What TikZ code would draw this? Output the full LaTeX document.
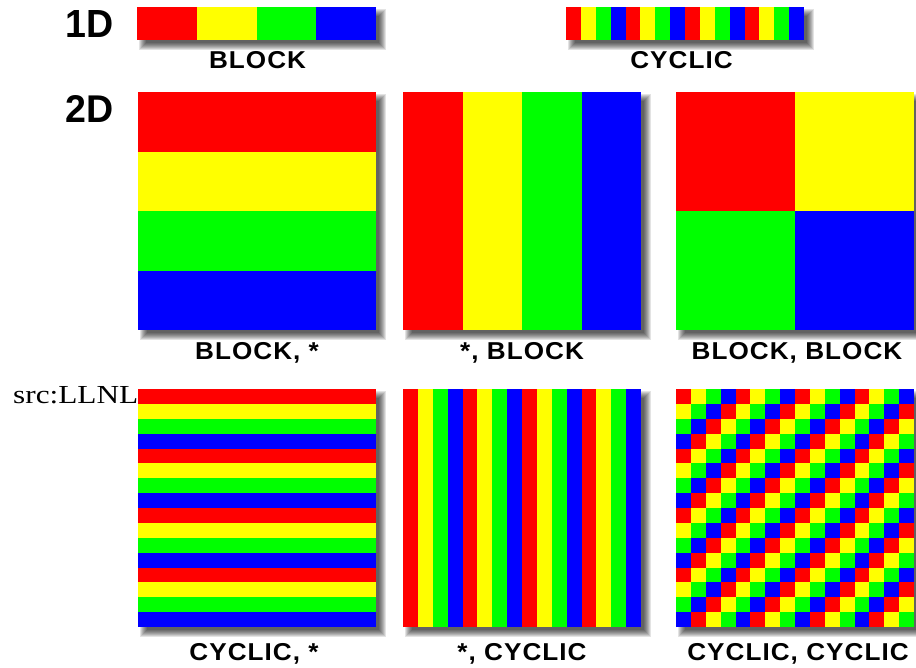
\documentclass[tikz,border=0pt]{standalone}
\usepackage{fontspec}
\setmainfont{Liberation Serif}
\newfontfamily\labfont[LetterSpace=4]{Liberation Sans}
\newfontfamily\rowfont{Liberation Sans}
\definecolor{c0}{RGB}{255,0,0}
\definecolor{c1}{RGB}{255,255,0}
\definecolor{c2}{RGB}{0,255,0}
\definecolor{c3}{RGB}{0,0,255}
\newcommand\pshadow[4]{%
  \foreach \k in {-3,...,4}{%
    \fill[black,fill opacity=0.11] ({#1+6-\k},{#2+6-\k}) rectangle ({#3+6+\k},{#4+6+\k});
  }}
\newcommand\labtext[1]{\scalebox{1.07}[1]{\labfont\bfseries\fontsize{24.4}{28}\selectfont #1}}
\tikzset{lab/.style={inner sep=0pt, anchor=base}}
\begin{document}
\begin{tikzpicture}[x=1pt,y=-1pt]
\useasboundingbox (0,0) rectangle (916,667);
\fill[white] (0,0) rectangle (916,667);
% source text (behind panels)
\node[inner sep=0pt, anchor=base west] (src) at (13,403) {\resizebox{125pt}{17pt}{src:LLNL}};
% row labels
\node[inner sep=0pt, anchor=base west] (l1d) at (65,37) {\resizebox{48pt}{27pt}{\rowfont\bfseries 1D}};
\node[inner sep=0pt, anchor=base west] (l2d) at (65,122) {\resizebox{48pt}{27pt}{\rowfont\bfseries 2D}};
% shadows
\pshadow{137}{7}{376}{40}
\pshadow{566}{7}{804}{40}
\pshadow{138}{92}{376}{330}
\pshadow{403}{92}{641}{330}
\pshadow{676}{92}{914}{330}
\pshadow{138}{389}{376}{627}
\pshadow{403}{389}{641}{627}
\pshadow{676}{389}{914}{627}
% 1D block
\foreach \i in {0,...,3}{
  \fill[c\i] ({137+\i*59.75},7) rectangle ({137+(\i+1)*59.75+0.3},40);
}
% 1D cyclic
\foreach \i in {0,...,15}{
  \pgfmathtruncatemacro\c{mod(\i,4)}
  \fill[c\c] ({566+\i*14.875},7) rectangle ({566+(\i+1)*14.875+0.3},40);
}
% BLOCK, *
\foreach \i in {0,...,3}{
  \fill[c\i] (138,{92+\i*59.5}) rectangle (376,{92+(\i+1)*59.5+0.3});
}
% *, BLOCK
\foreach \i in {0,...,3}{
  \fill[c\i] ({403+\i*59.5},92) rectangle ({403+(\i+1)*59.5+0.3},330);
}
% BLOCK, BLOCK
\fill[c0] (676,92) rectangle (795.3,211.3);
\fill[c1] (795,92) rectangle (914,211.3);
\fill[c2] (676,211) rectangle (795.3,330);
\fill[c3] (795,211) rectangle (914,330);
% CYCLIC, *
\foreach \i in {0,...,15}{
  \pgfmathtruncatemacro\c{mod(\i,4)}
  \fill[c\c] (138,{389+\i*14.875}) rectangle (376,{389+(\i+1)*14.875+0.3});
}
% *, CYCLIC
\foreach \i in {0,...,15}{
  \pgfmathtruncatemacro\c{mod(\i,4)}
  \fill[c\c] ({403+\i*14.875},389) rectangle ({403+(\i+1)*14.875+0.3},627);
}
% CYCLIC, CYCLIC
\foreach \i in {0,...,15}{
  \foreach \j in {0,...,15}{
    \pgfmathtruncatemacro\c{mod(\i+\j,4)}
    \fill[c\c] ({676+\j*14.875},{389+\i*14.875}) rectangle ({676+(\j+1)*14.875+0.3},{389+(\i+1)*14.875+0.3});
  }
}
% labels
\node[lab] (tblock) at (257.5,68) {\labtext{BLOCK}};
\node[lab] (tcyclic) at (681.5,68) {\labtext{CYCLIC}};
\node[lab] (tbs) at (257,359) {\labtext{BLOCK, *}};
\node[lab] (tsb) at (522,359) {\labtext{*, BLOCK}};
\node[lab] (tbb) at (797,359) {\labtext{BLOCK, BLOCK}};
\node[lab] (tcs) at (254,660) {\labtext{CYCLIC, *}};
\node[lab] (tsc) at (522,660) {\labtext{*, CYCLIC}};
\node[lab] (tcc) at (798,660) {\labtext{CYCLIC, CYCLIC}};
\end{tikzpicture}
\end{document}
